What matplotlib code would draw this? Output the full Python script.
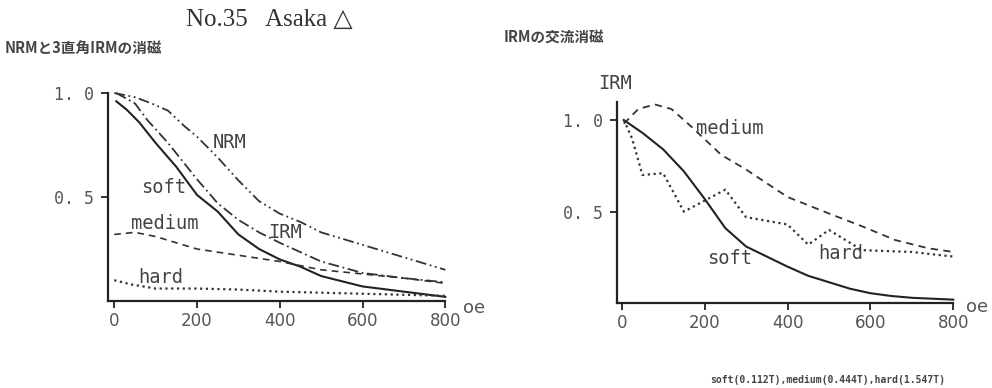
import matplotlib
matplotlib.use("Agg")
import matplotlib.pyplot as plt

# left panel: NRM and 3-axis IRM demagnetisation
nrm_x = [0, 50, 90, 130, 170, 200, 250, 300, 350, 400, 450, 500, 600, 700, 800]
nrm_y = [1.0, 0.98, 0.95, 0.915, 0.84, 0.79, 0.69, 0.58, 0.48, 0.42, 0.38, 0.33, 0.27, 0.21, 0.15]
irm_x = [5, 50, 80, 130, 170, 200, 250, 300, 350, 400, 500, 600, 700, 800]
irm_y = [1.0, 0.95, 0.87, 0.76, 0.66, 0.585, 0.47, 0.39, 0.33, 0.28, 0.19, 0.135, 0.11, 0.09]
soft_l_x = [5, 30, 60, 100, 150, 200, 250, 300, 350, 400, 450, 500, 600, 700, 800]
soft_l_y = [0.96, 0.92, 0.86, 0.76, 0.645, 0.51, 0.43, 0.32, 0.25, 0.20, 0.165, 0.12, 0.07, 0.045, 0.02]
med_l_x = [0, 50, 100, 200, 300, 400, 500, 600, 700, 800]
med_l_y = [0.32, 0.33, 0.31, 0.25, 0.22, 0.19, 0.15, 0.13, 0.11, 0.085]
hard_l_x = [0, 40, 100, 200, 300, 400, 500, 600, 700, 800]
hard_l_y = [0.10, 0.08, 0.06, 0.06, 0.055, 0.045, 0.04, 0.035, 0.03, 0.025]

# right panel: AF demagnetisation of IRM
soft_r_x = [5, 50, 100, 150, 200, 250, 300, 350, 400, 450, 500, 550, 600, 650, 700, 800]
soft_r_y = [1.0, 0.93, 0.84, 0.72, 0.57, 0.41, 0.31, 0.255, 0.20, 0.15, 0.115, 0.08, 0.055, 0.04, 0.03, 0.02]
med_r_x = [5, 40, 80, 120, 170, 240, 300, 400, 500, 580, 660, 740, 800]
med_r_y = [0.98, 1.06, 1.085, 1.06, 0.96, 0.81, 0.73, 0.58, 0.49, 0.42, 0.345, 0.30, 0.28]
hard_r_x = [5, 25, 50, 100, 150, 250, 300, 400, 450, 500, 580, 700, 800]
hard_r_y = [1.0, 0.9, 0.70, 0.71, 0.50, 0.62, 0.47, 0.43, 0.32, 0.40, 0.29, 0.28, 0.255]

x_ticks = [0, 200, 400, 600, 800]
y_ticks = [0.5, 1.0]
y_ticklabels = ["0. 5", "1. 0"]

NRM_LS = (0, (6, 2, 1, 2, 1, 2))
IRM_LS = (0, (6, 2, 1, 2))
MED_LS = (0, (4, 3))
HARD_LS = (0, (1, 1.6))

lab = dict(fontsize=13.5, family="DejaVu Sans Mono", color="#444444",
           ha="center", va="center")


def style_axes(ax, xlo, ylim):
    ax.set_xlim(xlo, 800)
    ax.set_ylim(0, ylim)
    for s in ["top", "right"]:
        ax.spines[s].set_visible(False)
    for s in ["left", "bottom"]:
        ax.spines[s].set_linewidth(1.6)
        ax.spines[s].set_color("#222222")
    ax.set_xticks(x_ticks)
    ax.set_yticks(y_ticks)
    ax.set_yticklabels(y_ticklabels)
    ax.tick_params(length=5, width=1.3, color="#222222", labelsize=12,
                   labelcolor="#555555")
    ax.tick_params(axis="x", pad=3)
    ax.tick_params(axis="y", pad=5)
    for t in ax.get_yticklabels():
        t.set_family("DejaVu Sans Mono")
    ax.set_facecolor("none")


fig = plt.figure(figsize=(9.92, 3.88), dpi=100)

ax1 = fig.add_axes([0.1089, 0.2242, 0.3400, 0.5361])
style_axes(ax1, -15, 1.0)
ax1.plot(nrm_x, nrm_y, color="#333333", lw=1.3, ls=NRM_LS, clip_on=False)
ax1.plot(irm_x, irm_y, color="#333333", lw=1.3, ls=IRM_LS, clip_on=False)
ax1.plot(soft_l_x, soft_l_y, color="#222222", lw=1.5, clip_on=False)
ax1.plot(med_l_x, med_l_y, color="#333333", lw=1.2, ls=MED_LS, clip_on=False)
ax1.plot(hard_l_x, hard_l_y, color="#333333", lw=1.6, ls=HARD_LS, clip_on=False)
ax1.text(280, 0.76, "NRM", **lab)
ax1.text(120, 0.548, "soft", **lab)
ax1.text(123, 0.375, "medium", **lab)
ax1.text(412, 0.33, "IRM", **lab)
ax1.text(113, 0.115, "hard", **lab)
ax1.text(870, -0.034, "oe", fontsize=13, color="#555555", ha="center", va="center")

ax2 = fig.add_axes([0.6217, 0.2183, 0.3393, 0.5196])
style_axes(ax2, -12, 1.1)
ax2.plot(soft_r_x, soft_r_y, color="#222222", lw=1.5, clip_on=False)
ax2.plot(med_r_x, med_r_y, color="#333333", lw=1.3, ls=MED_LS, clip_on=False)
ax2.plot(hard_r_x, hard_r_y, color="#333333", lw=1.6, ls=HARD_LS, clip_on=False)
ax2.text(-16, 1.20, "IRM", **lab)
ax2.text(261, 0.956, "medium", **lab)
ax2.text(261, 0.247, "soft", **lab)
ax2.text(529, 0.274, "hard", **lab)
ax2.text(857, -0.018, "oe", fontsize=13, color="#555555", ha="center", va="center")

fig.text(0.271, 0.948, "No.35   Asaka \u25b3", fontsize=18, ha="center", va="center",
         family=["Liberation Serif", "DejaVu Sans"], color="#333333")
fig.text(0.005, 0.876, "NRMと3直角IRMの消磁", fontsize=10.5, fontweight="bold",
         family=["Noto Sans CJK JP", "DejaVu Sans"], color="#444444", va="center")
fig.text(0.508, 0.902, "IRMの交流消磁", fontsize=10.5, fontweight="bold",
         family=["Noto Sans CJK JP", "DejaVu Sans"], color="#444444", va="center")
fig.text(0.716, 0.02, "soft(0.112T),medium(0.444T),hard(1.547T)", fontsize=7,
         fontweight="bold", family="DejaVu Sans Mono", color="#444444", va="center")

fig.savefig("out.png", dpi=100, facecolor="white")
